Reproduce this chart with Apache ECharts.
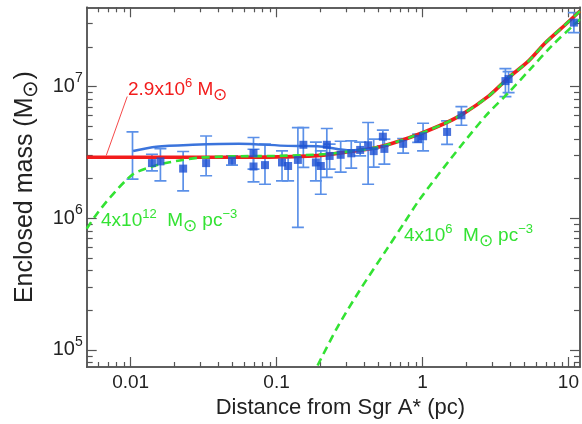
<!DOCTYPE html>
<html><head><meta charset="utf-8">
<script src="https://cdn.jsdelivr.net/npm/echarts@6/dist/echarts.min.js"></script>
<style>html,body{margin:0;padding:0;background:#fff}#c{width:582px;height:424px}</style>
</head><body><div id="c"></div>
<script>
// ---- axis ticks (distance in pc, mass in solar masses) ----
const xRange = [0.005, 12];
const yRange = [7.4e4, 4e7];
const xMajor = [0.01, 0.1, 1, 10];
const xMinor = [0.006,0.007,0.008,0.009,0.02,0.03,0.04,0.05,0.06,0.07,0.08,0.09,0.2,0.3,0.4,0.5,0.6,0.7,0.8,0.9,2,3,4,5,6,7,8,9,11];
const yMajor = [1e5, 1e6, 1e7];
const yMinor = [8e4,9e4,2e5,3e5,4e5,5e5,6e5,7e5,8e5,9e5,2e6,3e6,4e6,5e6,6e6,7e6,8e6,9e6,2e7,3e7];

// ---- observed enclosed mass (squares with error bars) ----
const obsR  = [0.0140,0.0160,0.0229,0.0329,0.0495,0.0695,0.0695,0.0833,0.109,0.120,0.140,0.1526,0.186,0.201,0.221,0.231,0.275,0.325,0.374,0.424,0.463,0.535,0.548,0.737,0.934,1.009,1.474,1.848,3.70,3.89,10.9];
const obsM  = [2.62e6,2.70e6,2.38e6,2.62e6,2.74e6,3.12e6,2.47e6,2.53e6,2.65e6,2.49e6,2.77e6,3.61e6,2.65e6,2.49e6,3.61e6,2.97e6,3.03e6,3.11e6,3.30e6,3.58e6,3.23e6,4.16e6,3.36e6,3.67e6,4.01e6,4.19e6,4.52e6,6.05e6,1.10e7,1.14e7,3.06e7];
const obsLo = [2.29e6,1.92e6,1.61e6,2.10e6,2.53e6,2.36e6,1.89e6,1.81e6,1.92e6,1.92e6,8.5e5,2.43e6,1.92e6,1.52e6,2.04e6,2.36e6,2.24e6,2.40e6,2.97e6,1.81e6,2.44e6,3.54e6,2.57e6,3.12e6,3.76e6,3.24e6,3.63e6,5.08e6,8.39e6,9.0e6,2.57e7];
const obsHi = [3.06e6,3.38e6,3.21e6,4.21e6,2.97e6,4.10e6,3.34e6,3.65e6,3.24e6,2.90e6,4.88e6,4.88e6,3.78e6,3.24e6,4.80e6,3.65e6,3.84e6,3.86e6,3.78e6,5.33e6,3.98e6,4.66e6,3.98e6,4.03e6,4.35e6,5.26e6,5.48e6,7.05e6,1.37e7,1.30e7,3.65e7];
// error bar drawn without a visible square
const barOnlyR = [0.0103], barOnlyLo = [1.98e6], barOnlyHi = [4.52e6];

// ---- model curves ----
const redR = [0.005,0.05,0.1026,0.2,0.29,0.487,0.819,1.379,1.883,2.851,3.894,5.319,6.90,9.43,11.36,12];
const redM = [2.9e6,2.9e6,2.92e6,3.0e6,3.16e6,3.44e6,4.10e6,5.17e6,6.17e6,8.49e6,1.17e7,1.56e7,2.13e7,2.92e7,3.54e7,3.75e7];
const denseR = [0.005,0.00573,0.00724,0.0104,0.0150,0.0205,0.0294,0.05,0.1,0.2,0.29,0.487,0.819,1.379,1.883,2.851,3.894,5.319,6.90,9.43,11.36,12];
const denseM = [8.3e5,1.04e6,1.44e6,2.16e6,2.52e6,2.72e6,2.88e6,2.95e6,2.97e6,3.05e6,3.17e6,3.45e6,4.10e6,5.17e6,6.17e6,8.49e6,1.17e7,1.56e7,2.13e7,2.92e7,3.54e7,3.75e7];
const clusterR = [0.191,0.261,0.376,0.570,0.758,0.957,1.53,2.71,3.89,5.46,7.66,11.0,12];
const clusterM = [7.6e4,1.48e5,2.89e5,5.82e5,9.4e5,1.39e6,2.75e6,5.98e6,9.0e6,1.35e7,2.03e7,2.97e7,3.25e7];
const fitR = [0.0104,0.0150,0.0266,0.0550,0.1198,0.191,0.321,0.451,0.50];
const fitM = [3.24e6,3.49e6,3.61e6,3.68e6,3.54e6,3.52e6,3.28e6,3.35e6,3.40e6];
// connector from the point-mass label to its line
const pointerR = [0.00681, 0.00948], pointerM = [3.0e6, 8.4e6];

const L = Math.log10;
const FONT = '"Liberation Sans", Arial, Helvetica, sans-serif';
const pairs = (xs, ys) => xs.map((x, i) => [L(x), L(ys[i])]);
const RED = '#f21c1c', GREEN = '#33e233', BLUE = '#3b74dc', BAR = '#5b90e8', SQ = '#1c4fd2';

function xAxisDef(pos, ticks, len, showLabel, name) {
  return {
    type: 'value', position: pos, min: L(xRange[0]), max: L(xRange[1]),
    splitLine: {show: false},
    axisLine: {show: true, onZero: false, lineStyle: {color: '#555', width: 1.5}},
    axisTick: {show: true, inside: true, length: len, customValues: ticks.map(L), lineStyle: {color: '#555', width: 1.2}},
    axisLabel: showLabel ? {
      show: true, customValues: ticks.map(L), margin: 6, color: '#222', fontSize: 19, fontFamily: FONT,
      formatter: v => { const e = Math.round(v); return e < 0 ? Math.pow(10, e).toFixed(-e) : String(Math.pow(10, e)); }
    } : {show: false},
    name: name || '', nameLocation: 'middle', nameGap: 30,
    nameTextStyle: {fontSize: 22, color: '#222', fontFamily: FONT, padding: [0, 0, 0, 14]}
  };
}
function yAxisDef(pos, ticks, len, showLabel, name) {
  return {
    type: 'value', position: pos, min: L(yRange[0]), max: L(yRange[1]),
    splitLine: {show: false},
    axisLine: {show: true, onZero: false, lineStyle: {color: '#555', width: 1.5}},
    axisTick: {show: true, inside: true, length: len, customValues: ticks.map(L), lineStyle: {color: '#555', width: 1.2}},
    axisLabel: showLabel ? {
      show: true, customValues: ticks.map(L), margin: 4, color: '#222', fontFamily: FONT,
      formatter: v => '{b|10}{s|' + Math.round(v) + '}',
      rich: {b: {fontSize: 20, fontFamily: FONT, color: '#222', lineHeight: 20},
             s: {fontSize: 14, fontFamily: FONT, color: '#222', lineHeight: 14, padding: [0, 0, 16, 0]}}
    } : {show: false},
    name: name || '', nameLocation: 'middle', nameGap: 47,
    nameTextStyle: {color: '#222', fontFamily: FONT,
      rich: {t: {fontSize: 25, fontFamily: FONT, color: '#222', lineHeight: 25},
             u: {fontSize: 21, fontFamily: FONT, color: '#222', lineHeight: 21, padding: [12, 0, 0, 0]}}}
  };
}

function errRender(params, api) {
  const x = api.value(0), lo = api.value(1), hi = api.value(2);
  const p1 = api.coord([x, lo]), p2 = api.coord([x, hi]);
  const w = 6;
  const st = {stroke: BAR, lineWidth: 1.7, fill: null};
  return {type: 'group', children: [
    {type: 'line', shape: {x1: p1[0], y1: p1[1], x2: p2[0], y2: p2[1]}, style: st},
    {type: 'line', shape: {x1: p1[0] - w, y1: p1[1], x2: p1[0] + w, y2: p1[1]}, style: st},
    {type: 'line', shape: {x1: p2[0] - w, y1: p2[1], x2: p2[0] + w, y2: p2[1]}, style: st}
  ]};
}

const sup = (c, fs) => ({fontSize: fs, fontFamily: FONT, fill: c, lineHeight: fs, padding: [0, 0, 14, 0]});
const base = (c, fs) => ({fontSize: fs, fontFamily: FONT, fill: c, lineHeight: fs});
const sub = (c, fs) => ({fontSize: fs, fontFamily: FONT, fill: c, lineHeight: fs, padding: [11, 0, 0, 0]});

const option = {
  animation: false,
  backgroundColor: '#fff',
  grid: {left: 86.7, top: 7.3, width: 499, height: 360.7},
  xAxis: [
    xAxisDef('bottom', xMajor, 10, true, 'Distance from Sgr A* (pc)'),
    xAxisDef('bottom', xMinor, 5, false),
    xAxisDef('top', xMajor, 10, false),
    xAxisDef('top', xMinor, 5, false)
  ],
  yAxis: [
    yAxisDef('left', yMajor, 10, true, '{t|Enclosed mass (M}{u|⊙}{t|)}'),
    yAxisDef('left', yMinor, 6, false),
    yAxisDef('right', yMajor, 10, false),
    yAxisDef('right', yMinor, 6, false)
  ],
  series: [
    {type: 'custom', renderItem: errRender, z: 1, clip: true,
     data: obsR.map((r, i) => [L(r), L(obsLo[i]), L(obsHi[i])])},
    {type: 'custom', renderItem: errRender, z: 1, clip: true,
     data: barOnlyR.map((r, i) => [L(r), L(barOnlyLo[i]), L(barOnlyHi[i])])},
    {type: 'line', data: pairs(redR, redM), smooth: 0.25, symbol: 'none', z: 2,
     lineStyle: {color: RED, width: 3.6},
     markLine: {silent: true, symbol: 'none', label: {show: false},
       lineStyle: {color: RED, width: 1, type: 'solid', opacity: 0.8},
       data: [[{coord: [L(pointerR[0]), L(pointerM[0])]}, {coord: [L(pointerR[1]), L(pointerM[1])]}]]}},
    {type: 'line', data: pairs(fitR, fitM), smooth: 0.3, symbol: 'none', z: 3,
     lineStyle: {color: BLUE, width: 2.4}},
    {type: 'line', data: pairs(denseR, denseM), smooth: 0.25, symbol: 'none', z: 4,
     lineStyle: {color: GREEN, width: 2.6, type: [8, 5]}},
    {type: 'line', data: pairs(clusterR, clusterM), smooth: 0.3, symbol: 'none', z: 4,
     lineStyle: {color: GREEN, width: 2.6, type: [8, 5]}},
    {type: 'scatter', data: pairs(obsR, obsM), symbol: 'rect', symbolSize: 8, z: 5,
     itemStyle: {color: SQ}}
  ],
  graphic: [
    {type: 'text', x: 128, y: 90, z: 10, style: {
      text: '{b|2.9x10}{p|6}{b| M}{s|⊙}', verticalAlign: 'middle', align: 'left',
      rich: {b: base(RED, 19), p: sup(RED, 13), s: sub(RED, 17)}}},
    {type: 'text', x: 101, y: 221, z: 10, style: {
      text: '{b|4x10}{p|12}{b|  M}{s|⊙}{b| pc}{p|−3}', verticalAlign: 'middle', align: 'left',
      rich: {b: base(GREEN, 19), p: sup(GREEN, 13), s: sub(GREEN, 17)}}},
    {type: 'text', x: 404, y: 236, z: 10, style: {
      text: '{b|4x10}{p|6}{b|  M}{s|⊙}{b| pc}{p|−3}', verticalAlign: 'middle', align: 'left',
      rich: {b: base(GREEN, 19), p: sup(GREEN, 13), s: sub(GREEN, 17)}}}
  ]
};
const chart = echarts.init(document.getElementById('c'), null, {renderer: 'canvas'});
chart.setOption(option);
</script></body></html>
